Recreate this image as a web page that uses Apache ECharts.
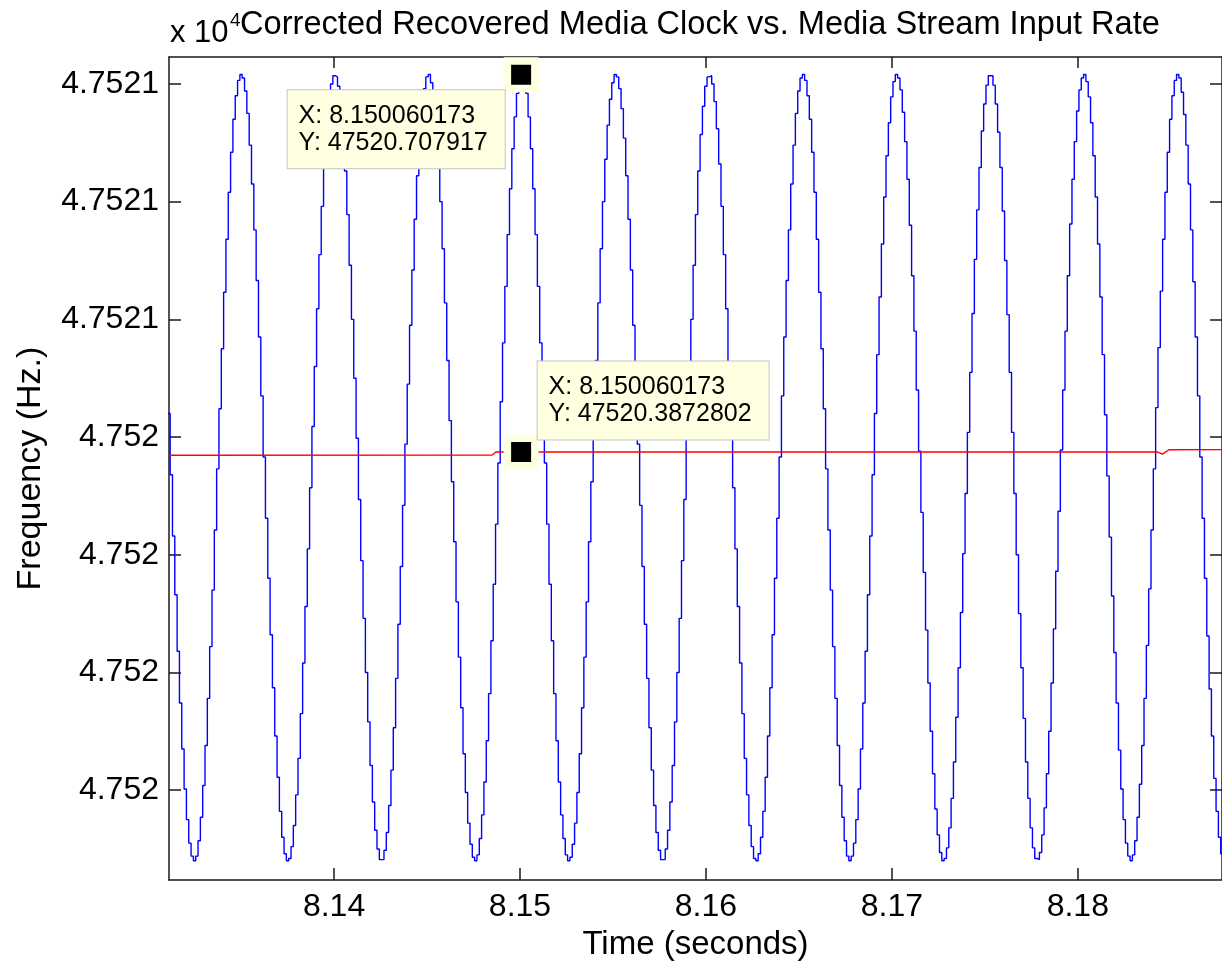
<!DOCTYPE html>
<html><head><meta charset="utf-8">
<script src="https://cdn.jsdelivr.net/npm/echarts@6/dist/echarts.min.js"></script>
<style>html,body{margin:0;padding:0;background:#fff}#chart{width:1222px;height:966px}</style>
</head><body><div id="chart"></div>
<script>
// Sample instants of the recovered media clock (s)
const sampleTimes = [
8.131060,8.131185,8.131310,8.131435,8.131560,8.131685,8.131810,8.131935,
8.132060,8.132185,8.132310,8.132435,8.132560,8.132685,8.132810,8.132935,
8.133060,8.133185,8.133310,8.133435,8.133560,8.133685,8.133810,8.133935,
8.134060,8.134185,8.134310,8.134435,8.134560,8.134685,8.134810,8.134935,
8.135060,8.135185,8.135310,8.135435,8.135560,8.135685,8.135810,8.135935,
8.136060,8.136185,8.136310,8.136435,8.136560,8.136685,8.136810,8.136935,
8.137060,8.137185,8.137310,8.137435,8.137560,8.137685,8.137810,8.137935,
8.138060,8.138185,8.138310,8.138435,8.138560,8.138685,8.138810,8.138935,
8.139060,8.139185,8.139310,8.139435,8.139560,8.139685,8.139810,8.139935,
8.140060,8.140185,8.140310,8.140435,8.140560,8.140685,8.140810,8.140935,
8.141060,8.141185,8.141310,8.141435,8.141560,8.141685,8.141810,8.141935,
8.142060,8.142185,8.142310,8.142435,8.142560,8.142685,8.142810,8.142935,
8.143060,8.143185,8.143310,8.143435,8.143560,8.143685,8.143810,8.143935,
8.144060,8.144185,8.144310,8.144435,8.144560,8.144685,8.144810,8.144935,
8.145060,8.145185,8.145310,8.145435,8.145560,8.145685,8.145810,8.145935,
8.146060,8.146185,8.146310,8.146435,8.146560,8.146685,8.146810,8.146935,
8.147060,8.147185,8.147310,8.147435,8.147560,8.147685,8.147810,8.147935,
8.148060,8.148185,8.148310,8.148435,8.148560,8.148685,8.148810,8.148935,
8.149060,8.149185,8.149310,8.149435,8.149560,8.149685,8.149810,8.149935,
8.150060,8.150185,8.150310,8.150435,8.150560,8.150685,8.150810,8.150935,
8.151060,8.151185,8.151310,8.151435,8.151560,8.151685,8.151810,8.151935,
8.152060,8.152185,8.152310,8.152435,8.152560,8.152685,8.152810,8.152935,
8.153060,8.153185,8.153310,8.153435,8.153560,8.153685,8.153810,8.153935,
8.154060,8.154185,8.154310,8.154435,8.154560,8.154685,8.154810,8.154935,
8.155060,8.155185,8.155310,8.155435,8.155560,8.155685,8.155810,8.155935,
8.156060,8.156185,8.156310,8.156435,8.156560,8.156685,8.156810,8.156935,
8.157060,8.157185,8.157310,8.157435,8.157560,8.157685,8.157810,8.157935,
8.158060,8.158185,8.158310,8.158435,8.158560,8.158685,8.158810,8.158935,
8.159060,8.159185,8.159310,8.159435,8.159560,8.159685,8.159810,8.159935,
8.160060,8.160185,8.160310,8.160435,8.160560,8.160685,8.160810,8.160935,
8.161060,8.161185,8.161310,8.161435,8.161560,8.161685,8.161810,8.161935,
8.162060,8.162185,8.162310,8.162435,8.162560,8.162685,8.162810,8.162935,
8.163060,8.163185,8.163310,8.163435,8.163560,8.163685,8.163810,8.163935,
8.164060,8.164185,8.164310,8.164435,8.164560,8.164685,8.164810,8.164935,
8.165060,8.165185,8.165310,8.165435,8.165560,8.165685,8.165810,8.165935,
8.166060,8.166185,8.166310,8.166435,8.166560,8.166685,8.166810,8.166935,
8.167060,8.167185,8.167310,8.167435,8.167560,8.167685,8.167810,8.167935,
8.168060,8.168185,8.168310,8.168435,8.168560,8.168685,8.168810,8.168935,
8.169060,8.169185,8.169310,8.169435,8.169560,8.169685,8.169810,8.169935,
8.170060,8.170185,8.170310,8.170435,8.170560,8.170685,8.170810,8.170935,
8.171060,8.171185,8.171310,8.171435,8.171560,8.171685,8.171810,8.171935,
8.172060,8.172185,8.172310,8.172435,8.172560,8.172685,8.172810,8.172935,
8.173060,8.173185,8.173310,8.173435,8.173560,8.173685,8.173810,8.173935,
8.174060,8.174185,8.174310,8.174435,8.174560,8.174685,8.174810,8.174935,
8.175060,8.175185,8.175310,8.175435,8.175560,8.175685,8.175810,8.175935,
8.176060,8.176185,8.176310,8.176435,8.176560,8.176685,8.176810,8.176935,
8.177060,8.177185,8.177310,8.177435,8.177560,8.177685,8.177810,8.177935,
8.178060,8.178185,8.178310,8.178435,8.178560,8.178685,8.178810,8.178935,
8.179060,8.179185,8.179310,8.179435,8.179560,8.179685,8.179810,8.179935,
8.180060,8.180185,8.180310,8.180435,8.180560,8.180685,8.180810,8.180935,
8.181060,8.181185,8.181310,8.181435,8.181560,8.181685,8.181810,8.181935,
8.182060,8.182185,8.182310,8.182435,8.182560,8.182685,8.182810,8.182935,
8.183060,8.183185,8.183310,8.183435,8.183560,8.183685,8.183810,8.183935,
8.184060,8.184185,8.184310,8.184435,8.184560,8.184685,8.184810,8.184935,
8.185060,8.185185,8.185310,8.185435,8.185560,8.185685,8.185810,8.185935,
8.186060,8.186185,8.186310,8.186435,8.186560,8.186685,8.186810,8.186935,
8.187060,8.187185,8.187310,8.187435,8.187560,8.187685,8.187810
];
// Corrected recovered media clock (Hz)
const clockValues = [
47520.420,47520.368,47520.316,47520.266,47520.218,47520.174,47520.135,47520.101,
47520.075,47520.055,47520.044,47520.040,47520.044,47520.057,47520.077,47520.104,
47520.138,47520.178,47520.222,47520.270,47520.321,47520.373,47520.424,47520.475,
47520.523,47520.568,47520.608,47520.642,47520.670,47520.690,47520.703,47520.708,
47520.705,47520.694,47520.675,47520.648,47520.615,47520.576,47520.533,47520.485,
47520.435,47520.383,47520.331,47520.280,47520.232,47520.187,47520.146,47520.111,
47520.082,47520.060,47520.046,47520.040,47520.042,47520.052,47520.070,47520.096,
47520.127,47520.165,47520.208,47520.256,47520.305,47520.357,47520.409,47520.460,
47520.509,47520.555,47520.596,47520.632,47520.662,47520.685,47520.700,47520.707,
47520.706,47520.698,47520.681,47520.657,47520.626,47520.589,47520.546,47520.500,
47520.450,47520.399,47520.347,47520.295,47520.246,47520.200,47520.158,47520.121,
47520.090,47520.066,47520.050,47520.041,47520.041,47520.049,47520.064,47520.087,
47520.117,47520.153,47520.195,47520.241,47520.290,47520.342,47520.394,47520.445,
47520.495,47520.542,47520.585,47520.622,47520.654,47520.679,47520.696,47520.706,
47520.708,47520.701,47520.687,47520.665,47520.636,47520.600,47520.560,47520.514,
47520.465,47520.414,47520.362,47520.311,47520.260,47520.213,47520.170,47520.131,
47520.098,47520.072,47520.054,47520.043,47520.040,47520.045,47520.059,47520.079,
47520.107,47520.142,47520.182,47520.227,47520.275,47520.326,47520.378,47520.430,
47520.480,47520.528,47520.572,47520.611,47520.645,47520.672,47520.692,47520.704,
47520.708,47520.704,47520.692,47520.672,47520.645,47520.611,47520.572,47520.528,
47520.480,47520.430,47520.378,47520.326,47520.275,47520.227,47520.182,47520.142,
47520.107,47520.079,47520.059,47520.045,47520.040,47520.043,47520.054,47520.072,
47520.098,47520.131,47520.170,47520.213,47520.260,47520.311,47520.362,47520.414,
47520.465,47520.514,47520.560,47520.600,47520.636,47520.665,47520.687,47520.701,
47520.708,47520.706,47520.696,47520.679,47520.654,47520.622,47520.585,47520.542,
47520.495,47520.445,47520.394,47520.342,47520.290,47520.241,47520.195,47520.153,
47520.117,47520.087,47520.064,47520.049,47520.041,47520.041,47520.050,47520.066,
47520.090,47520.121,47520.158,47520.200,47520.246,47520.295,47520.347,47520.399,
47520.450,47520.500,47520.546,47520.589,47520.626,47520.657,47520.681,47520.698,
47520.706,47520.707,47520.700,47520.685,47520.662,47520.632,47520.596,47520.555,
47520.509,47520.460,47520.409,47520.357,47520.305,47520.256,47520.208,47520.165,
47520.127,47520.096,47520.070,47520.052,47520.042,47520.040,47520.046,47520.060,
47520.082,47520.111,47520.146,47520.187,47520.232,47520.280,47520.331,47520.383,
47520.435,47520.485,47520.533,47520.576,47520.615,47520.648,47520.675,47520.694,
47520.705,47520.708,47520.703,47520.690,47520.670,47520.642,47520.608,47520.568,
47520.523,47520.475,47520.424,47520.373,47520.321,47520.270,47520.222,47520.178,
47520.138,47520.104,47520.077,47520.057,47520.044,47520.040,47520.044,47520.055,
47520.075,47520.101,47520.135,47520.174,47520.218,47520.266,47520.316,47520.368,
47520.420,47520.470,47520.519,47520.564,47520.604,47520.639,47520.667,47520.689,
47520.702,47520.708,47520.705,47520.695,47520.676,47520.651,47520.619,47520.580,
47520.537,47520.490,47520.440,47520.388,47520.336,47520.285,47520.236,47520.191,
47520.150,47520.114,47520.084,47520.062,47520.047,47520.040,47520.042,47520.051,
47520.068,47520.093,47520.124,47520.162,47520.204,47520.251,47520.301,47520.352,
47520.404,47520.455,47520.505,47520.551,47520.593,47520.629,47520.660,47520.683,
47520.699,47520.707,47520.707,47520.699,47520.683,47520.659,47520.629,47520.592,
47520.550,47520.504,47520.455,47520.404,47520.352,47520.300,47520.250,47520.204,
47520.161,47520.124,47520.093,47520.068,47520.051,47520.042,47520.041,47520.047,
47520.062,47520.085,47520.114,47520.150,47520.191,47520.237,47520.286,47520.337,
47520.389,47520.440,47520.490,47520.537,47520.581,47520.619,47520.651,47520.677,
47520.695,47520.705,47520.708,47520.702,47520.689,47520.667,47520.639,47520.604,
47520.564,47520.519,47520.470,47520.419,47520.367,47520.315,47520.265,47520.217,
47520.174,47520.134,47520.101,47520.075,47520.055,47520.044,47520.040,47520.045,
47520.057,47520.077,47520.105,47520.138,47520.178,47520.223,47520.271,47520.321,
47520.373,47520.425,47520.476,47520.524,47520.568,47520.608,47520.642,47520.670,
47520.690,47520.703,47520.708,47520.705,47520.693,47520.674,47520.648,47520.615,
47520.576,47520.532,47520.485,47520.435,47520.383,47520.331,47520.280,47520.231,
47520.186,47520.146,47520.110,47520.082,47520.060,47520.046,47520.040
];
// Media stream input rate (Hz), red trace
const inputTimes  = [8.1311, 8.1485, 8.1487, 8.1843, 8.18455, 8.1849, 8.1879];
const inputValues = [47520.3846, 47520.3848, 47520.3873, 47520.3873, 47520.3855, 47520.3892, 47520.3893];

const xTickValues = [8.14, 8.15, 8.16, 8.17, 8.18];
const xTickLabels = ['8.14', '8.15', '8.16', '8.17', '8.18'];
const yTickValues = [47520.1, 47520.2, 47520.3, 47520.4, 47520.5, 47520.6, 47520.7];
const yTickLabels = ['4.752', '4.752', '4.752', '4.752', '4.7521', '4.7521', '4.7521'];

// Data-tip annotations
const tipX = [8.150060173, 8.150060173];
const tipY = [47520.707917, 47520.3872802];

const X_MIN = 8.131123, X_MAX = 8.187754;
const Y_MIN = 47520.0236, Y_MAX = 47520.7229;

const FONT = "'Liberation Sans', Arial, Helvetica, sans-serif";
const AX = '#1a1a1a';

function labelFor(values, labels) {
  return function (v) {
    for (let i = 0; i < values.length; i++) {
      if (Math.abs(values[i] - v) < 1e-7) return labels[i];
    }
    return '';
  };
}

const clockData = sampleTimes.map((t, i) => [t, clockValues[i]]);
const inputData = inputTimes.map((t, i) => [t, inputValues[i]]);

const tipLabelBase = {
  show: true,
  color: '#000',
  fontFamily: FONT,
  fontSize: 25,
  lineHeight: 27,
  align: 'left',
  backgroundColor: '#ffffe1',
  borderColor: '#c4c4c4',
  borderWidth: 1,
  padding: [12, 17, 12, 11]
};
const tipSymbol = {
  symbol: 'rect',
  symbolSize: 27.5,
  itemStyle: { color: '#000', borderColor: '#ffffe1', borderWidth: 7.5 }
};

const chart = echarts.init(document.getElementById('chart'), null, { renderer: 'canvas' });
chart.setOption({
  animation: false,
  backgroundColor: '#fff',
  title: [
    {
      text: 'x 10',
      left: 170, top: 17, padding: 0,
      textStyle: { fontFamily: FONT, fontSize: 31, fontWeight: 'normal', color: '#000', lineHeight: 32 }
    },
    {
      text: '4',
      left: 230, top: 11, padding: 0,
      textStyle: { fontFamily: FONT, fontSize: 19, fontWeight: 'normal', color: '#000', lineHeight: 20 }
    },
    {
      text: 'Corrected Recovered Media Clock vs. Media Stream Input Rate',
      left: 700, top: 9, padding: 0, textAlign: 'center',
      textStyle: { fontFamily: FONT, fontSize: 32.6, fontWeight: 'normal', color: '#000', lineHeight: 32 }
    }
  ],
  grid: { left: 169, top: 57, right: -6, bottom: 85, containLabel: false },
  xAxis: [
    {
      type: 'value', position: 'bottom', min: X_MIN, max: X_MAX,
      axisLine: { show: true, onZero: false, lineStyle: { color: AX, width: 1.5 } },
      axisTick: { show: true, inside: true, length: 12, customValues: xTickValues, lineStyle: { color: AX, width: 1.5 } },
      axisLabel: { show: true, customValues: xTickValues, formatter: labelFor(xTickValues, xTickLabels),
        margin: 11, color: '#000', fontFamily: FONT, fontSize: 32 },
      splitLine: { show: false },
      name: 'Time (seconds)', nameLocation: 'middle', nameGap: 45,
      nameTextStyle: { fontFamily: FONT, fontSize: 33, color: '#000' }
    },
    {
      type: 'value', position: 'top', min: X_MIN, max: X_MAX,
      axisLine: { show: true, onZero: false, lineStyle: { color: AX, width: 1.5 } },
      axisTick: { show: true, inside: true, length: 11, customValues: xTickValues, lineStyle: { color: AX, width: 1.5 } },
      axisLabel: { show: false }, splitLine: { show: false }
    }
  ],
  yAxis: [
    {
      type: 'value', position: 'left', min: Y_MIN, max: Y_MAX, scale: true,
      axisLine: { show: true, onZero: false, lineStyle: { color: AX, width: 1.5 } },
      axisTick: { show: true, inside: true, length: 12, customValues: yTickValues, lineStyle: { color: AX, width: 1.5 } },
      axisLabel: { show: true, customValues: yTickValues, formatter: labelFor(yTickValues, yTickLabels),
        margin: 10, color: '#000', fontFamily: FONT, fontSize: 32 },
      splitLine: { show: false },
      name: 'Frequency (Hz.)', nameLocation: 'middle', nameGap: 121,
      nameTextStyle: { fontFamily: FONT, fontSize: 34, color: '#000' }
    },
    {
      type: 'value', position: 'right', min: Y_MIN, max: Y_MAX, scale: true,
      axisLine: { show: true, onZero: false, lineStyle: { color: AX, width: 1.5 } },
      axisTick: { show: true, inside: true, length: 12, customValues: yTickValues, lineStyle: { color: AX, width: 1.5 } },
      axisLabel: { show: false }, splitLine: { show: false }
    }
  ],
  series: [
    {
      name: 'Recovered media clock', type: 'line', xAxisIndex: 0, yAxisIndex: 0,
      data: clockData, step: 'end', showSymbol: false, clip: true,
      lineStyle: { color: '#0000ff', width: 1.4 },
      markPoint: Object.assign({}, tipSymbol, {
        data: [{ coord: [tipX[0], tipY[0]] }],
        label: Object.assign({}, tipLabelBase, {
          position: [-216, 33], verticalAlign: 'top',
          formatter: 'X: ' + String(tipX[0]) + '\nY: ' + String(tipY[0])
        })
      })
    },
    {
      name: 'Media stream input rate', type: 'line', xAxisIndex: 0, yAxisIndex: 0,
      data: inputData, showSymbol: false, clip: true,
      lineStyle: { color: '#ff0000', width: 1.4 },
      markPoint: Object.assign({}, tipSymbol, {
        data: [{ coord: [tipX[1], tipY[1]] }],
        label: Object.assign({}, tipLabelBase, {
          position: [34, 5], verticalAlign: 'bottom',
          formatter: 'X: ' + String(tipX[1]) + '\nY: ' + String(tipY[1])
        })
      })
    }
  ]
});
</script>
</body></html>
